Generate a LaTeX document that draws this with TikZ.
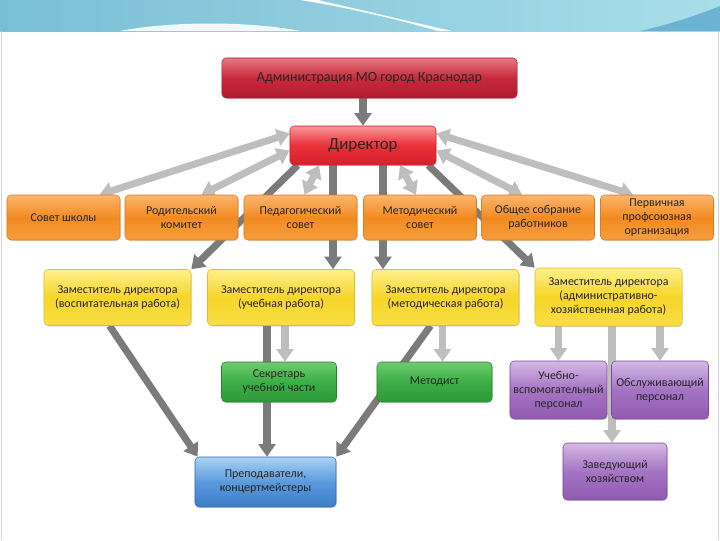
\documentclass[tikz,border=0pt]{standalone}
\usepackage{fontspec}
\setmainfont{Carlito}
\usetikzlibrary{arrows.meta,positioning,calc,shadows}
\definecolor{banleft}{RGB}{122, 190, 214}
\definecolor{banright}{RGB}{168, 222, 232}
\definecolor{bandark}{RGB}{70, 160, 200}
\definecolor{crimsontop}{RGB}{230, 120, 132}
\definecolor{crimson}{RGB}{200, 40, 60}
\definecolor{crimsondark}{RGB}{178, 26, 48}
\definecolor{redtop}{RGB}{250, 150, 150}
\definecolor{redmid}{RGB}{232, 48, 56}
\definecolor{reddark}{RGB}{214, 32, 44}
\definecolor{orangetop}{RGB}{250, 182, 110}
\definecolor{orangemid}{RGB}{243, 138, 32}
\definecolor{orangebot}{RGB}{245, 158, 60}
\definecolor{yellowtop}{RGB}{253, 240, 140}
\definecolor{yellowmid}{RGB}{247, 213, 40}
\definecolor{yellowbot}{RGB}{248, 222, 70}
\definecolor{greentop}{RGB}{110, 204, 110}
\definecolor{greenmid}{RGB}{59, 174, 69}
\definecolor{greenbot}{RGB}{46, 154, 58}
\definecolor{purpletop}{RGB}{214, 184, 230}
\definecolor{purplemid}{RGB}{164, 116, 196}
\definecolor{purplebot}{RGB}{144, 90, 176}
\definecolor{bluetop}{RGB}{170, 212, 244}
\definecolor{bluemid}{RGB}{90, 154, 220}
\definecolor{bluebot}{RGB}{60, 124, 200}
\definecolor{darkarrow}{RGB}{123, 123, 123}
\definecolor{lightarrow}{RGB}{190, 190, 190}
\pgfdeclarelayer{bg}
\pgfsetlayers{bg,main}

\begin{document}
\begin{tikzpicture}[x=0.025cm, y=-0.025cm,
    box/.style={rounded corners=3pt, inner sep=0pt, align=center, text=black!85,
                font=\fontsize{8.5}{10}\selectfont,
                drop shadow={opacity=0.25, shadow xshift=0.6pt, shadow yshift=-0.8pt}},
    adminbox/.style={box, top color=crimsontop, bottom color=crimsondark, middle color=crimson,
                draw=crimsondark, font=\fontsize{10}{12}\selectfont},
    dirbox/.style={box, top color=redtop, bottom color=reddark, middle color=redmid,
                draw=reddark, font=\fontsize{12}{14}\selectfont},
    orangebox/.style={box, top color=orangetop, bottom color=orangebot, middle color=orangemid,
                draw=orangemid!90!black, minimum width=2.825cm, minimum height=1.125cm},
    yellowbox/.style={box, top color=yellowtop, bottom color=yellowbot, middle color=yellowmid,
                draw=yellowmid!90!black, minimum width=3.675cm, minimum height=1.4cm},
    greenbox/.style={box, top color=greentop, bottom color=greenbot, middle color=greenmid,
                draw=greenbot!85!black, minimum width=2.875cm, minimum height=1.0cm},
    purplebox/.style={box, top color=purpletop, bottom color=purplebot, middle color=purplemid,
                draw=purplebot!85!black, minimum width=2.425cm, minimum height=1.45cm},
    bluebox/.style={box, top color=bluetop, bottom color=bluebot, middle color=bluemid,
                draw=bluebot!85!black},
    darkline/.style={draw=darkarrow, line width=5pt, -{Triangle[length=9pt, width=12pt]}},
    lightline/.style={draw=lightarrow, line width=5pt, -{Triangle[length=9pt, width=12pt]}},
    twoway/.style={draw=lightarrow, line width=5pt,
                {Triangle[length=9pt, width=12pt]}-{Triangle[length=9pt, width=12pt]}}]

    \useasboundingbox (0,0) rectangle (720,540);

    % banner on top
    \begin{pgfonlayer}{bg}
        \fill[left color=banleft, right color=banright] (0,0) rectangle (720,31);
        \fill[white, opacity=0.9] (120,31) .. controls (170,21) and (250,21) .. (300,31) -- cycle;
        \fill[white] (318,0) .. controls (370,12) and (420,24) .. (452,31) -- (438,31)
            .. controls (400,20) and (350,8) .. (300,0) -- cycle;
        \fill[bandark!80] (640,31) .. controls (680,22) and (705,12) .. (720,6) -- (720,31) -- cycle;
        \draw[gray!35] (1,31) -- (1,540);
        \draw[gray!35] (718,31) -- (718,540);
    \end{pgfonlayer}

    % top
    \node[adminbox, minimum width=7.375cm, minimum height=1.0cm] (admin) at (369.5,78) {Администрация МО город Краснодар};
    \node[dirbox, minimum width=3.65cm, minimum height=0.975cm] (dir) at (363,145.5) {Директор};

    % councils
    \node[orangebox] (sovet)  at (63.5,217.5) {Совет школы};
    \node[orangebox] (rodkom) at (181.5,217.5) {Родительский\\комитет};
    \node[orangebox] (pedsov) at (300.5,217.5) {Педагогический\\совет};
    \node[orangebox] (metsov) at (420,217.5) {Методический\\совет};
    \node[orangebox] (obsobr) at (538,217.5) {Общее собрание\\работников};
    \node[orangebox] (profs)  at (657,217.5) {Первичная\\профсоюзная\\организация};

    % deputies
    \node[yellowbox] (zdvr)  at (117.5,297.5) {Заместитель директора\\(воспитательная работа)};
    \node[yellowbox] (zdur)  at (281,297.5) {Заместитель директора\\(учебная работа)};
    \node[yellowbox] (zdmr)  at (445.5,297.5) {Заместитель директора\\(методическая работа)};
    \node[yellowbox, minimum height=1.45cm] (zdahr) at (608.5,297) {Заместитель директора\\(административно-\\хозяйственная работа)};

    % staff
    \node[greenbox] (sekr)  at (279,382) {Секретарь\\учебной части};
    \node[greenbox] (metod) at (434.5,382) {Методист};
    \node[purplebox] (uvp)  at (558.5,390) {Учебно-\\вспомогательный\\персонал};
    \node[purplebox] (obsl) at (660,390) {Обслуживающий\\персонал};
    \node[purplebox, minimum width=2.6cm, minimum height=1.425cm] (zavhoz) at (615,471.5) {Заведующий\\хозяйством};
    \node[bluebox, minimum width=3.525cm, minimum height=1.25cm] (prep) at (265.5,482) {Преподаватели,\\концертмейстеры};

    % points for straight arrows
    \coordinate (d1) at ($(dir.south)+(-30,0)$);
    \coordinate (d2) at ($(dir.south)+(20,0)$);
    \coordinate (u1) at ($(zdur.south)+(-14,0)$);
    \coordinate (u2) at ($(zdur.south)+(4,0)$);
    \coordinate (m1) at ($(zdmr.south)+(-3,0)$);
    \coordinate (h1) at ($(zavhoz.north)+(-3,0)$);

    \begin{pgfonlayer}{bg}
        % two way links
        \draw[twoway] ($(dir.west)+(0,-12)$) -- ($(sovet.north)+(36,0)$);
        \draw[twoway] ($(dir.west)+(0,5)$)   -- ($(rodkom.north)+(20,0)$);
        \draw[twoway] ($(dir.south)+(-44,0)$) -- ($(pedsov.north)+(4,0)$);
        \draw[twoway] ($(dir.south)+(37,0)$)  -- ($(metsov.north)+(-4,0)$);
        \draw[twoway] ($(dir.east)+(0,5)$)   -- ($(obsobr.north)+(-16,0)$);
        \draw[twoway] ($(dir.east)+(0,-12)$) -- ($(profs.north)+(-24,0)$);
        % subordination
        \draw[darkline] (dir.north |- admin.south) -- (dir.north);
        \draw[darkline] ($(dir.south west)+(8,0)$) -- (zdvr.north east);
        \draw[darkline] (d1) -- (d1 |- zdur.north);
        \draw[darkline] (d2) -- (d2 |- zdmr.north);
        \draw[darkline] ($(dir.south east)+(-8,0)$) -- (zdahr.north west);
        \draw[darkline] ($(zdvr.south)+(-8,0)$) -- ($(prep.north west)+(3,0)$);
        \draw[darkline] (u1) -- (u1 |- prep.north);
        \draw[darkline] ($(zdmr.south)+(-15,0)$) -- (prep.north east);
        \draw[lightline] (u2) -- (u2 |- sekr.north);
        \draw[lightline] (m1) -- (m1 |- metod.north);
        \draw[lightline] (uvp.north |- zdahr.south) -- (uvp.north);
        \draw[lightline] (obsl.north |- zdahr.south) -- (obsl.north);
        \draw[lightline] (h1 |- zdahr.south) -- (h1);
    \end{pgfonlayer}
\end{tikzpicture}
\end{document}
